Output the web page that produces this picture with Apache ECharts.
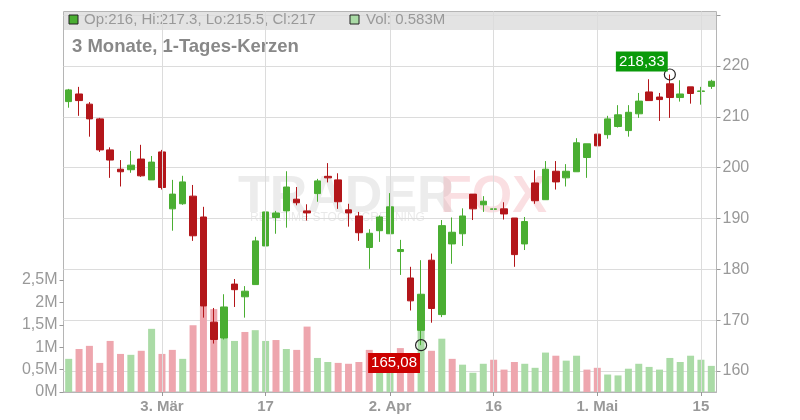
<!DOCTYPE html>
<html><head><meta charset="utf-8">
<script src="https://cdn.jsdelivr.net/npm/echarts@6/dist/echarts.min.js"></script>
<style>html,body{margin:0;padding:0;background:#fff}#c{width:800px;height:420px}</style>
</head><body><div id="c"></div>
<script>
const opens  = [213.0,214.5,212.5,209.6,203.5,199.7,199.6,201.7,197.6,203.1,191.9,192.9,194.4,190.3,169.6,166.5,177.1,174.6,177.0,184.6,190.2,191.5,193.8,191.5,194.9,198.3,197.6,191.7,190.5,184.3,187.6,187.0,183.5,178.3,168.0,181.8,171.1,185.0,187.0,194.8,192.7,191.8,191.9,190.1,185.0,197.0,193.7,199.3,198.0,199.2,202.0,206.6,206.5,208.1,207.3,210.6,214.9,213.9,216.5,213.8,215.9,215.0,216];
const closes = [215.3,213.2,209.6,203.5,201.5,199.2,200.5,198.4,201.1,196.1,194.8,197.2,186.6,172.8,166.2,172.6,176.0,175.7,185.6,191.3,191.1,196.2,193.1,191.1,197.4,198.0,193.3,191.1,187.2,187.1,190.3,192.3,183.9,173.8,175.1,172.3,188.6,187.3,190.5,191.9,193.4,191.9,190.9,182.9,189.4,193.5,199.7,197.2,199.3,204.9,204.7,204.3,209.6,210.4,210.9,213.1,213.2,213.4,213.8,214.5,214.6,215.1,217];
const lows   = [211.8,210.2,206.1,203.1,198.0,196.3,199.0,198.2,197.6,195.7,187.6,192.7,185.6,170.5,165.4,166.2,172.6,170.5,177.0,184.3,187.0,188.2,192.6,189.6,193.3,197.1,191.9,188.4,185.6,180.1,185.4,187.0,178.9,171.9,165.08,169.5,170.6,181.1,184.6,189.7,191.3,189.1,189.8,180.5,183.8,192.9,193.7,195.7,196.3,199.2,198.0,204.1,205.7,207.9,206.1,209.8,213.2,209.2,209.8,213.0,212.6,212.4,215.5];
const highs  = [215.5,215.9,212.9,209.8,204.0,201.5,203.3,204.5,202.3,203.5,197.6,198.4,196.6,192.3,172.4,175.1,178.1,176.7,186.4,191.8,191.5,199.3,196.2,192.8,197.8,200.9,198.9,192.9,191.3,187.9,190.6,195.0,185.8,180.5,181.8,183.1,189.7,190.2,192.0,194.8,194.4,193.5,193.2,190.1,190.3,199.5,201.3,201.3,200.7,205.8,204.7,208.2,210.2,212.3,212.3,214.7,217.4,214.7,218.33,217.2,215.9,215.9,217.3];
const volumes = [0.74,0.96,1.03,0.65,1.14,0.85,0.83,0.92,1.41,0.85,0.94,0.74,1.49,1.92,1.85,1.21,1.14,1.34,1.38,1.14,1.16,0.96,0.94,1.46,0.76,0.67,0.65,0.63,0.67,0.94,0.65,0.70,0.98,0.80,1.39,0.92,1.19,0.74,0.61,0.43,0.63,0.72,0.50,0.67,0.63,0.54,0.88,0.81,0.70,0.81,0.50,0.54,0.39,0.37,0.52,0.63,0.56,0.50,0.76,0.67,0.81,0.72,0.583];
const dateLabels = {9:'3. Mär',19:'17',31:'2. Apr',41:'16',51:'1. Mai',61:'15'};
const priceTicks = [160,170,180,190,200,210,220];
const volTicks = ['0M','0,5M','1M','1,5M','2M','2,5M'];
const highMark = [58, 218.33];
const lowMark = [34, 165.08];

const cats = opens.map((_, i) => String(i));
const candles = opens.map((o, i) => [o, closes[i], lows[i], highs[i]]);
const UP = '#4aae32', DOWN = '#b3161a', VUP = '#aadba6', VDOWN = '#eea6ae';
const volData = volumes.map((v, i) => ({
  value: v * 1e6,
  itemStyle: {color: (i === 0 || closes[i] >= closes[i-1]) ? VUP : VDOWN}
}));
const FONT = 'Liberation Sans, Arial, sans-serif';
const L = 63.5, R = 83.5;

const chart = echarts.init(document.getElementById('c'));
chart.setOption({
  animation: false,
  textStyle: {fontFamily: FONT},
  graphic: [
    {type: 'rect', z: 0, shape: {x: 64, y: 12, width: 652, height: 18}, style: {fill: '#e3e3e3'}},
    {type: 'rect', z: 1, shape: {x: 69, y: 15, width: 9, height: 9}, style: {fill: UP, stroke: '#222', lineWidth: 1}},
    {type: 'text', z: 1, x: 84, y: 12, style: {text: 'Op:216, Hi:217.3, Lo:215.5, Cl:217', fill: '#999', font: '15px ' + FONT}},
    {type: 'rect', z: 1, shape: {x: 350, y: 15, width: 9, height: 9}, style: {fill: VUP, stroke: '#222', lineWidth: 1}},
    {type: 'text', z: 1, x: 366, y: 12, style: {text: 'Vol: 0.583M', fill: '#999', font: '15px ' + FONT}},
    {type: 'text', z: 1, x: 72, y: 37, style: {text: '3 Monate, 1-Tages-Kerzen', fill: '#888', font: 'bold 18.5px ' + FONT}},
    {type: 'text', z: 0, x: 238, y: 172, style: {text: 'TRADER', fill: 'rgba(200,200,200,0.35)', font: 'bold 52px ' + FONT}},
    {type: 'text', z: 0, x: 440, y: 172, style: {text: 'FOX', fill: 'rgba(240,150,160,0.3)', font: 'bold 52px ' + FONT}},
    {type: 'text', z: 0, x: 250, y: 212, style: {text: 'REALTIME STOCKSCREENING', fill: 'rgba(200,200,200,0.4)', font: '12px ' + FONT}}
  ],
  grid: [
    {left: L, right: R, top: 15.2, bottom: 420 - 371},
    {left: L, right: R, top: 280, bottom: 28},
    {left: L, right: R, top: 11.5, bottom: 28, show: true, borderColor: '#b5b5b5', borderWidth: 1}
  ],
  xAxis: [
    {type: 'category', data: cats, gridIndex: 0, show: false},
    {type: 'category', data: cats, gridIndex: 1, show: false},
    {type: 'category', data: cats, gridIndex: 2,
     axisLine: {show: true, lineStyle: {color: '#b5b5b5'}},
     axisTick: {show: true, alignWithLabel: true, interval: (i) => i in dateLabels, lineStyle: {color: '#999'}, length: 4},
     axisLabel: {interval: (i) => i in dateLabels, formatter: (v, i) => dateLabels[i] || '', color: '#999', fontWeight: 'bold', fontSize: 15, fontFamily: FONT, margin: 7},
     splitLine: {show: false}}
  ],
  yAxis: [
    {type: 'value', gridIndex: 0, position: 'right', min: 160, max: 230, interval: 10,
     axisLine: {show: false}, axisTick: {show: true, length: 4, lineStyle: {color: '#999'}},
     axisLabel: {color: '#999', fontSize: 16, fontFamily: FONT, margin: 6, formatter: (v) => priceTicks.includes(v) ? String(v) : ''},
     splitLine: {show: true, lineStyle: {color: '#dcdcdc', width: 1}}},
    {type: 'value', gridIndex: 1, position: 'left', min: 0, max: 2.5e6, interval: 5e5,
     axisLine: {show: false}, axisTick: {show: true, length: 4, lineStyle: {color: '#999'}},
     axisLabel: {color: '#999', fontSize: 16, fontFamily: FONT, margin: 6, formatter: (v) => volTicks[Math.round(v / 5e5)]},
     splitLine: {show: false}},
    {type: 'value', gridIndex: 2, show: false, min: 0, max: 1}
  ],
  series: [
    {type: 'bar', xAxisIndex: 2, yAxisIndex: 2, data: cats.map(() => null), silent: true,
     markLine: {silent: true, symbol: 'none', label: {show: false}, lineStyle: {color: '#dcdcdc', type: 'solid', width: 1},
       data: Object.keys(dateLabels).map(k => ({xAxis: Number(k)}))}},
    {type: 'bar', xAxisIndex: 1, yAxisIndex: 1, data: volData, barWidth: 7, z: 3},
    {type: 'candlestick', xAxisIndex: 0, yAxisIndex: 0, data: candles, barWidth: 7, z: 4,
     itemStyle: {color: UP, color0: DOWN, borderColor: UP, borderColor0: DOWN, borderWidth: 1}},
    {type: 'scatter', xAxisIndex: 0, yAxisIndex: 0, z: 6, symbol: 'circle', symbolSize: 11,
     itemStyle: {color: 'rgba(255,255,255,0)', borderColor: '#222', borderWidth: 1.2, opacity: 1},
     data: [
       {value: highMark, label: {show: true, formatter: '218,33', position: [4, 3], align: 'right', verticalAlign: 'bottom', backgroundColor: '#0a9a0a', color: '#fff', fontSize: 15, lineHeight: 16, padding: [2, 3], fontFamily: FONT}},
       {value: lowMark, label: {show: true, formatter: '165,08', position: [5, 14], align: 'right', verticalAlign: 'top', backgroundColor: '#cc0000', color: '#fff', fontSize: 15, lineHeight: 16, padding: [2, 3], fontFamily: FONT}}
     ]}
  ]
});
</script></body></html>
